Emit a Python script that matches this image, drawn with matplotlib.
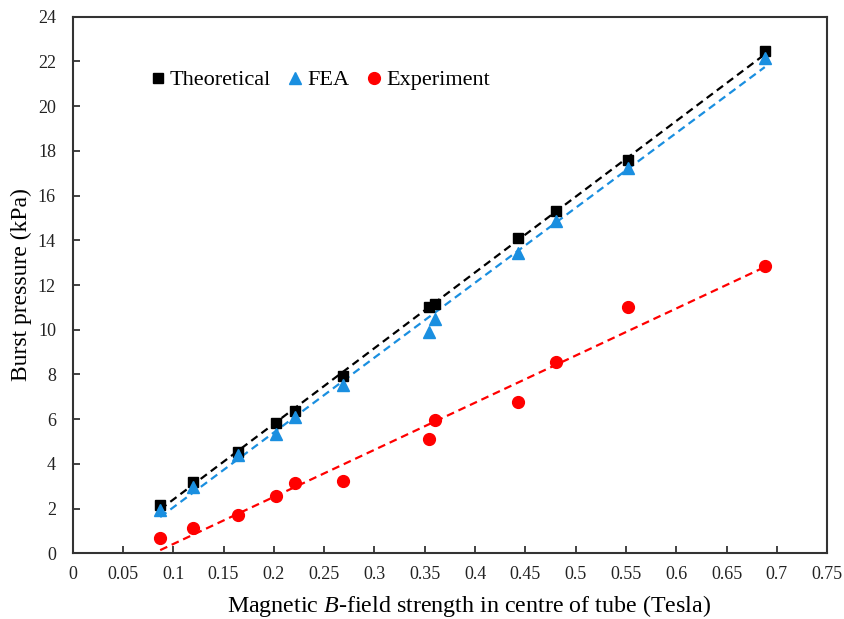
import numpy as np
import matplotlib.pyplot as plt

# B-field (Tesla) and burst pressure (kPa)
b_field = [0.087, 0.12, 0.164, 0.202, 0.221, 0.269, 0.354, 0.36, 0.443, 0.48, 0.552, 0.688]
theoretical = [2.15, 3.2, 4.55, 5.83, 6.35, 7.95, 11.0, 11.15, 14.1, 15.3, 17.6, 22.45]
fea = [1.95, 2.95, 4.4, 5.35, 6.1, 7.55, 9.92, 10.5, 13.45, 14.85, 17.25, 22.15]
experiment = [0.7, 1.12, 1.71, 2.56, 3.14, 3.25, 5.1, 5.96, 6.78, 8.55, 11.0, 12.85]

x_ticks = np.arange(0, 0.751, 0.05)
y_ticks = np.arange(0, 25, 2)

plt.rcParams['font.family'] = ['Liberation Serif', 'DejaVu Serif']
plt.rcParams['mathtext.fontset'] = 'custom'
plt.rcParams['mathtext.rm'] = 'Liberation Serif'
plt.rcParams['mathtext.it'] = 'Liberation Serif:italic'

fig = plt.figure(figsize=(8.44, 6.19), dpi=100)
ax = fig.add_axes([0.0861, 0.1061, 0.8939, 0.8669])

series = [
    (theoretical, 'black', 's', 7, 'Theoretical'),
    (fea, '#1a8fe0', '^', 8, 'FEA'),
    (experiment, '#ff0000', 'o', 8.5, 'Experiment'),
]

xs = np.asarray(b_field)
for ys, col, mk, ms, lab in series:
    ax.plot(xs, ys, linestyle='none', marker=mk, markersize=ms, color=col,
            label=lab, zorder=3)
    # linear trend line over the data range
    k, c = np.polyfit(xs, ys, 1)
    xl = np.array([xs.min(), xs.max()])
    ax.plot(xl, k * xl + c, color=col, lw=1.6, linestyle=(0, (3.5, 2.2)),
            zorder=2)

ax.set_xlim(0, 0.75)
ax.set_ylim(0, 24)
ax.set_xticks(x_ticks)
ax.set_xticklabels(['0'] + ['%g' % t for t in x_ticks[1:]])
ax.set_yticks(y_ticks)
ax.tick_params(direction='in', length=5, width=1.2, labelsize=13,
               colors='#222222', pad=9)
ax.tick_params(axis='y', pad=12)
for sp in ax.spines.values():
    sp.set_linewidth(1.5)
    sp.set_color('#333333')

ax.set_xlabel('Magnetic $\\it{B}$-field strength in centre of tube (Tesla)',
              fontsize=17.3)
ax.xaxis.set_label_coords(0.526, -0.074)
ax.set_ylabel('Burst pressure (kPa)', fontsize=17, labelpad=4)

ax.legend(loc='center left', bbox_to_anchor=(0.086, 0.882), ncol=3,
          frameon=False, fontsize=16, handletextpad=0.05, columnspacing=0.6,
          handlelength=1.0, borderaxespad=0)

fig.savefig('out.png', dpi=100)
